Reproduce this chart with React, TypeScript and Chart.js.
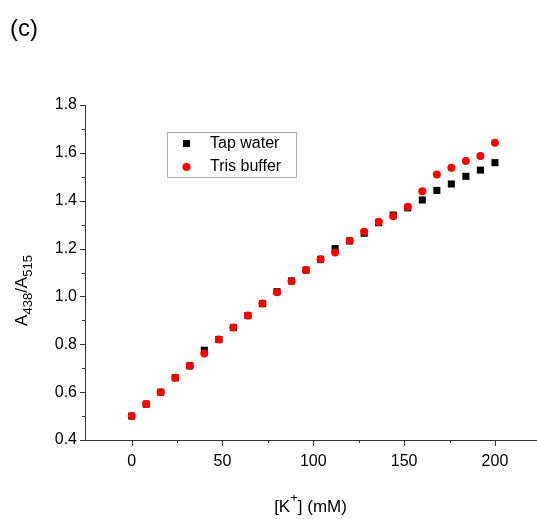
import React, { useEffect, useRef } from "react";
import { Chart, registerables } from "chart.js";

Chart.register(...registerables);

const xValues = [0, 8, 16, 24, 32, 40, 48, 56, 64, 72, 80, 88, 96, 104, 112, 120, 128, 136, 144, 152, 160, 168, 176, 184, 192, 200];
const tapWater = [0.50, 0.55, 0.60, 0.66, 0.71, 0.775, 0.82, 0.87, 0.92, 0.97, 1.02, 1.065, 1.11, 1.155, 1.20, 1.232, 1.264, 1.308, 1.34, 1.37, 1.403, 1.443, 1.47, 1.502, 1.528, 1.559];
const trisBuffer = [0.50, 0.55, 0.60, 0.66, 0.71, 0.762, 0.82, 0.87, 0.92, 0.97, 1.017, 1.063, 1.11, 1.155, 1.184, 1.233, 1.27, 1.312, 1.335, 1.375, 1.44, 1.51, 1.538, 1.566, 1.587, 1.642];
const seriesNames = ["Tap water", "Tris buffer"];
const xMajorTicks = [0, 50, 100, 150, 200];
const xMinorTicks = [25, 75, 125, 175];
const yMajorTicks = [0.4, 0.6, 0.8, 1.0, 1.2, 1.4, 1.6, 1.8];
const yMinorTicks = [0.5, 0.7, 0.9, 1.1, 1.3, 1.5, 1.7];
const panelLabel = "(c)";

const FONT = "'Liberation Sans', Arial, sans-serif";
const AXIS_COLOR = "#333333";

const decorPlugin = {
  id: "decor",
  afterDraw(chart: any) {
    const ctx = chart.ctx as CanvasRenderingContext2D;
    const xs = chart.scales.x;
    const ys = chart.scales.y;
    const area = chart.chartArea;
    ctx.save();
    // ticks
    ctx.strokeStyle = AXIS_COLOR;
    ctx.lineWidth = 1;
    ctx.beginPath();
    xMajorTicks.forEach((v) => {
      const px = Math.round(xs.getPixelForValue(v)) + 0.5;
      ctx.moveTo(px, area.bottom);
      ctx.lineTo(px, area.bottom + 6);
    });
    xMinorTicks.forEach((v) => {
      const px = Math.round(xs.getPixelForValue(v)) + 0.5;
      ctx.moveTo(px, area.bottom);
      ctx.lineTo(px, area.bottom + 3);
    });
    yMajorTicks.forEach((v) => {
      const py = Math.round(ys.getPixelForValue(v)) + 0.5;
      ctx.moveTo(area.left, py);
      ctx.lineTo(area.left - 5, py);
    });
    yMinorTicks.forEach((v) => {
      const py = Math.round(ys.getPixelForValue(v)) + 0.5;
      ctx.moveTo(area.left, py);
      ctx.lineTo(area.left - 3, py);
    });
    ctx.stroke();

    // legend
    const lx = area.left + 82;
    const ly = area.top + 27;
    ctx.strokeStyle = "#b0b0b0";
    ctx.strokeRect(lx + 0.5, ly + 0.5, 129, 45);
    ctx.fillStyle = "#000000";
    ctx.fillRect(lx + 16, ly + 8, 7, 7);
    ctx.fillStyle = "#ff0000";
    ctx.beginPath();
    ctx.arc(lx + 19.5, ly + 35, 4, 0, Math.PI * 2);
    ctx.fill();
    ctx.fillStyle = "#000000";
    ctx.font = `16px ${FONT}`;
    ctx.textBaseline = "middle";
    ctx.textAlign = "left";
    ctx.fillText(seriesNames[0], lx + 43, ly + 12);
    ctx.fillText(seriesNames[1], lx + 43, ly + 35);

    // panel label
    ctx.font = `24px ${FONT}`;
    ctx.textBaseline = "alphabetic";
    ctx.fillText(panelLabel, 10, 36);

    // x title: [K+] (mM)
    const big = `17px ${FONT}`;
    const small = `13px ${FONT}`;
    ctx.font = big;
    const p1 = "[K";
    const p3 = "] (mM)";
    const w1 = ctx.measureText(p1).width;
    const w3 = ctx.measureText(p3).width;
    ctx.font = small;
    const w2 = ctx.measureText("+").width;
    const total = w1 + w2 + w3;
    const cx = (area.left + area.right) / 2;
    const x0 = cx - total / 2;
    const by = 512;
    ctx.font = big;
    ctx.fillText(p1, x0, by);
    ctx.font = small;
    ctx.fillText("+", x0 + w1, by - 10);
    ctx.font = big;
    ctx.fillText(p3, x0 + w1 + w2, by);

    // y title: A438/A515
    const parts = [
      { t: "A", sub: false },
      { t: "438", sub: true },
      { t: "/A", sub: false },
      { t: "515", sub: true },
    ];
    let tw = 0;
    parts.forEach((p) => {
      ctx.font = p.sub ? small : big;
      tw += ctx.measureText(p.t).width;
    });
    ctx.translate(27, (area.top + area.bottom) / 2 + 18);
    ctx.rotate(-Math.PI / 2);
    let tx = -tw / 2;
    parts.forEach((p) => {
      ctx.font = p.sub ? small : big;
      ctx.fillText(p.t, tx, p.sub ? 5 : 0);
      tx += ctx.measureText(p.t).width;
    });
    ctx.restore();
  },
};

export default function App() {
  const ref = useRef<HTMLCanvasElement | null>(null);
  useEffect(() => {
    if (!ref.current) return;
    const chart = new Chart(ref.current, {
      type: "scatter",
      data: {
        datasets: [
          {
            label: seriesNames[0],
            data: xValues.map((x, i) => ({ x, y: tapWater[i] })),
            pointStyle: "rect",
            pointRadius: 5,
            backgroundColor: "#000000",
            borderColor: "#000000",
            borderWidth: 0,
            order: 2,
          },
          {
            label: seriesNames[1],
            data: xValues.map((x, i) => ({ x, y: trisBuffer[i] })),
            pointStyle: "circle",
            pointRadius: 4,
            backgroundColor: "#ff0000",
            borderColor: "#ff0000",
            borderWidth: 0,
            order: 1,
          },
        ],
      },
      options: {
        responsive: false,
        animation: false,
        devicePixelRatio: 1,
        layout: { autoPadding: false, padding: { top: 105, right: 1, left: 0, bottom: 0 } },
        plugins: {
          legend: { display: false },
          tooltip: { enabled: false },
          title: { display: false },
        },
        scales: {
          x: {
            type: "linear",
            min: -25.7,
            max: 222.6,
            grid: { display: false, drawTicks: false },
            border: { display: true, color: AXIS_COLOR, width: 1 },
            afterBuildTicks: (s: any) => {
              s.ticks = xMajorTicks.map((v) => ({ value: v }));
            },
            ticks: {
              padding: 12,
              color: "#000000",
              font: { family: FONT, size: 16 },
              maxRotation: 0,
              autoSkip: false,
              callback: (v: any) => String(v),
            },
            afterFit: (s: any) => {
              s.height = 79;
              s.paddingLeft = 0;
              s.paddingRight = 0;
            },
          },
          y: {
            type: "linear",
            min: 0.4,
            max: 1.8,
            grid: { display: false, drawTicks: false },
            border: { display: true, color: AXIS_COLOR, width: 1 },
            afterBuildTicks: (s: any) => {
              s.ticks = yMajorTicks.map((v) => ({ value: v }));
            },
            ticks: {
              padding: 8,
              color: "#000000",
              font: { family: FONT, size: 16 },
              autoSkip: false,
              callback: (v: any) => Number(v).toFixed(1),
            },
            afterFit: (s: any) => {
              s.width = 85;
              s.paddingTop = 0;
              s.paddingBottom = 0;
            },
          },
        },
      },
      plugins: [decorPlugin],
    });
    return () => chart.destroy();
  }, []);
  return (
    <div style={{ position: "fixed", left: 0, top: 0, width: 537, height: 519, background: "#ffffff" }}>
      <canvas ref={ref} width={537} height={519} style={{ width: 537, height: 519 }} />
    </div>
  );
}
